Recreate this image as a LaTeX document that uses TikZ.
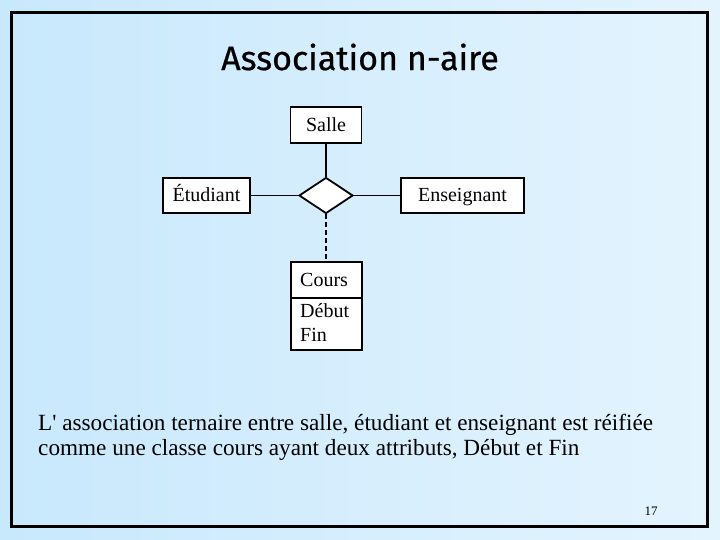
\documentclass[tikz,border=0pt]{standalone}
\usepackage{fontspec}
\setmainfont{Liberation Serif}
\newfontfamily\parafont{Liberation Serif}
\newfontfamily\titlefont[FakeBold=0.6]{Fira Sans}
\usetikzlibrary{shapes.geometric}
\definecolor{bgA}{RGB}{200,232,252}
\definecolor{bgB}{RGB}{228,244,254}
\tikzset{
  entity/.style={draw, line width=1.8pt, fill=white, minimum height=36pt, inner sep=0pt, text height=15.5pt, text depth=2.5pt, font=\fontsize{20}{23}\selectfont},
  link/.style={line width=1.8pt},
  attr/.style={anchor=west, font=\fontsize{20}{23}\selectfont, inner sep=0pt},
}
\begin{document}
\begin{tikzpicture}[x=1pt,y=-1pt]
\useasboundingbox (0,0) rectangle (720,540);
\shade[left color=bgA, right color=bgB] (0,0) rectangle (720,540);
\draw[line width=3pt] (11,13) rectangle (707,526);
\node[font=\titlefont\fontsize{34}{40}\selectfont] (title) at (360,57) {Association n-aire};
\node[entity, minimum width=71pt] (salle) at (326,125) {Salle};
\node[entity, minimum width=87pt, minimum height=35pt] (etu) at (206.5,195.5) {Étudiant};
\node[entity, minimum width=123pt, minimum height=35pt] (ens) at (462.5,195.5) {Enseignant};
\node[draw, line width=1.8pt, fill=white, diamond, minimum width=54pt, minimum height=36pt, inner sep=0pt, aspect=1.5] (rel) at (326,195.5) {};
\draw[link] (salle.south) -- (rel.north);
\draw[link] (etu.east) -- (rel.west);
\draw[link] (rel.east) -- (ens.west);
\draw[line width=1.8pt, fill=white] (291,262) rectangle (362,350);
\draw[line width=1.8pt] (291,298) -- (362,298);
\coordinate (ctop) at (326,262);
\node[attr] (cours) at (300,280) {Cours};
\node[attr] (debut) at (300,311) {Début};
\node[attr] (fin) at (300,334.5) {Fin};
\draw[link, dash pattern=on 5pt off 3pt] (rel.south) -- (ctop);
\node[anchor=west, align=left, inner sep=0pt, font=\parafont\fontsize{23.2}{25}\selectfont] (para) at (38,437.5) {L' association ternaire entre salle, étudiant et enseignant est réifiée\\comme une classe cours ayant deux attributs, Début et Fin};
\node[font=\fontsize{13}{15}\selectfont] (num) at (651,511) {17};
\end{tikzpicture}
\end{document}
